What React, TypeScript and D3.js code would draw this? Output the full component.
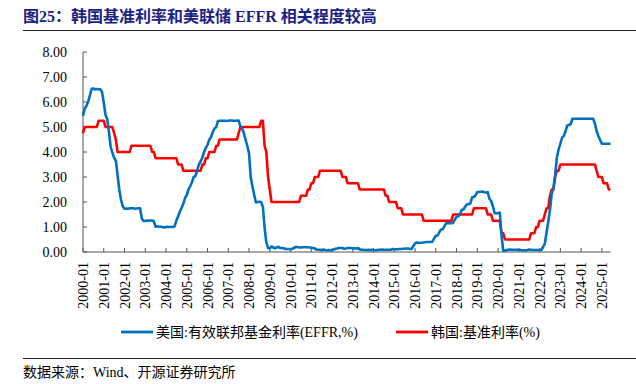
import React from "react";
import * as d3 from "d3";

// ---- Data (monthly, 2000-01 .. 2025-06) ----
const effr2000 = [5.45, 5.73, 5.85, 6.02, 6.27, 6.53, 6.54, 6.5, 6.52, 6.51, 6.51, 6.4];
const effr2001 = [5.98, 5.49, 5.31, 4.8, 4.21, 3.97, 3.77, 3.65, 3.07, 2.49, 2.09, 1.82];
const effr2002 = [1.73, 1.74, 1.73, 1.75, 1.75, 1.75, 1.73, 1.74, 1.75, 1.75, 1.34, 1.24];
const effr2003 = [1.24, 1.26, 1.25, 1.26, 1.26, 1.22, 1.01, 1.03, 1.01, 1.01, 1.0, 0.98];
const effr2004 = [1.0, 1.01, 1.0, 1.0, 1.0, 1.03, 1.26, 1.43, 1.61, 1.76, 1.93, 2.16];
const effr2005 = [2.28, 2.5, 2.63, 2.79, 3.0, 3.04, 3.26, 3.5, 3.62, 3.78, 4.0, 4.16];
const effr2006 = [4.29, 4.49, 4.59, 4.79, 4.94, 4.99, 5.24, 5.25, 5.25, 5.25, 5.25, 5.24];
const effr2007 = [5.25, 5.26, 5.26, 5.25, 5.25, 5.25, 5.26, 5.02, 4.94, 4.76, 4.49, 4.24];
const effr2008 = [3.94, 2.98, 2.61, 2.28, 1.98, 2.0, 2.01, 2.0, 1.81, 0.97, 0.39, 0.16];
const effr2009 = [0.15, 0.22, 0.18, 0.15, 0.18, 0.21, 0.16, 0.16, 0.15, 0.12, 0.12, 0.12];
const effr2010 = [0.11, 0.13, 0.16, 0.2, 0.2, 0.18, 0.18, 0.19, 0.19, 0.19, 0.19, 0.18];
const effr2011 = [0.17, 0.16, 0.14, 0.1, 0.09, 0.09, 0.07, 0.1, 0.08, 0.07, 0.08, 0.07];
const effr2012 = [0.08, 0.1, 0.13, 0.14, 0.16, 0.16, 0.16, 0.13, 0.14, 0.16, 0.16, 0.16];
const effr2013 = [0.14, 0.15, 0.14, 0.15, 0.11, 0.09, 0.09, 0.08, 0.08, 0.09, 0.08, 0.09];
const effr2014 = [0.07, 0.07, 0.08, 0.09, 0.09, 0.1, 0.09, 0.09, 0.09, 0.09, 0.09, 0.12];
const effr2015 = [0.11, 0.11, 0.11, 0.12, 0.12, 0.13, 0.13, 0.14, 0.14, 0.12, 0.12, 0.24];
const effr2016 = [0.34, 0.38, 0.36, 0.37, 0.37, 0.38, 0.39, 0.4, 0.4, 0.4, 0.41, 0.54];
const effr2017 = [0.65, 0.66, 0.79, 0.9, 0.91, 1.04, 1.15, 1.16, 1.15, 1.15, 1.16, 1.3];
const effr2018 = [1.41, 1.42, 1.51, 1.69, 1.7, 1.82, 1.91, 1.91, 1.95, 2.19, 2.2, 2.27];
const effr2019 = [2.4, 2.4, 2.41, 2.42, 2.39, 2.38, 2.4, 2.13, 2.04, 1.83, 1.55, 1.55];
const effr2020 = [1.55, 1.58, 0.65, 0.05, 0.05, 0.08, 0.09, 0.1, 0.09, 0.09, 0.09, 0.09];
const effr2021 = [0.09, 0.08, 0.07, 0.07, 0.06, 0.08, 0.1, 0.09, 0.08, 0.08, 0.08, 0.08];
const effr2022 = [0.08, 0.08, 0.2, 0.33, 0.77, 1.21, 1.68, 2.33, 2.56, 3.08, 3.78, 4.1];
const effr2023 = [4.33, 4.57, 4.65, 4.83, 5.06, 5.08, 5.12, 5.33, 5.33, 5.33, 5.33, 5.33];
const effr2024 = [5.33, 5.33, 5.33, 5.33, 5.33, 5.33, 5.33, 5.33, 5.13, 4.83, 4.64, 4.48];
const effr2025 = [4.33, 4.33, 4.33, 4.33, 4.33, 4.33];

const kor2000 = [4.75, 5.0, 5.0, 5.0, 5.0, 5.0, 5.0, 5.0, 5.0, 5.25, 5.25, 5.25];
const kor2001 = [5.25, 5.0, 5.0, 5.0, 5.0, 5.0, 4.75, 4.5, 4.0, 4.0, 4.0, 4.0];
const kor2002 = [4.0, 4.0, 4.0, 4.0, 4.25, 4.25, 4.25, 4.25, 4.25, 4.25, 4.25, 4.25];
const kor2003 = [4.25, 4.25, 4.25, 4.25, 4.0, 4.0, 3.75, 3.75, 3.75, 3.75, 3.75, 3.75];
const kor2004 = [3.75, 3.75, 3.75, 3.75, 3.75, 3.75, 3.75, 3.5, 3.5, 3.5, 3.25, 3.25];
const kor2005 = [3.25, 3.25, 3.25, 3.25, 3.25, 3.25, 3.25, 3.25, 3.25, 3.5, 3.5, 3.75];
const kor2006 = [3.75, 4.0, 4.0, 4.0, 4.0, 4.25, 4.25, 4.5, 4.5, 4.5, 4.5, 4.5];
const kor2007 = [4.5, 4.5, 4.5, 4.5, 4.5, 4.5, 4.75, 5.0, 5.0, 5.0, 5.0, 5.0];
const kor2008 = [5.0, 5.0, 5.0, 5.0, 5.0, 5.0, 5.0, 5.25, 5.25, 4.25, 4.0, 3.0];
const kor2009 = [2.5, 2.0, 2.0, 2.0, 2.0, 2.0, 2.0, 2.0, 2.0, 2.0, 2.0, 2.0];
const kor2010 = [2.0, 2.0, 2.0, 2.0, 2.0, 2.0, 2.25, 2.25, 2.25, 2.25, 2.5, 2.5];
const kor2011 = [2.75, 2.75, 3.0, 3.0, 3.0, 3.25, 3.25, 3.25, 3.25, 3.25, 3.25, 3.25];
const kor2012 = [3.25, 3.25, 3.25, 3.25, 3.25, 3.25, 3.0, 3.0, 3.0, 2.75, 2.75, 2.75];
const kor2013 = [2.75, 2.75, 2.75, 2.75, 2.5, 2.5, 2.5, 2.5, 2.5, 2.5, 2.5, 2.5];
const kor2014 = [2.5, 2.5, 2.5, 2.5, 2.5, 2.5, 2.5, 2.25, 2.25, 2.0, 2.0, 2.0];
const kor2015 = [2.0, 2.0, 1.75, 1.75, 1.75, 1.5, 1.5, 1.5, 1.5, 1.5, 1.5, 1.5];
const kor2016 = [1.5, 1.5, 1.5, 1.5, 1.5, 1.25, 1.25, 1.25, 1.25, 1.25, 1.25, 1.25];
const kor2017 = [1.25, 1.25, 1.25, 1.25, 1.25, 1.25, 1.25, 1.25, 1.25, 1.25, 1.5, 1.5];
const kor2018 = [1.5, 1.5, 1.5, 1.5, 1.5, 1.5, 1.5, 1.5, 1.5, 1.5, 1.75, 1.75];
const kor2019 = [1.75, 1.75, 1.75, 1.75, 1.75, 1.75, 1.5, 1.5, 1.5, 1.25, 1.25, 1.25];
const kor2020 = [1.25, 1.25, 0.75, 0.75, 0.5, 0.5, 0.5, 0.5, 0.5, 0.5, 0.5, 0.5];
const kor2021 = [0.5, 0.5, 0.5, 0.5, 0.5, 0.5, 0.5, 0.75, 0.75, 0.75, 1.0, 1.0];
const kor2022 = [1.25, 1.25, 1.25, 1.5, 1.75, 1.75, 2.25, 2.5, 2.5, 3.0, 3.25, 3.25];
const kor2023 = [3.5, 3.5, 3.5, 3.5, 3.5, 3.5, 3.5, 3.5, 3.5, 3.5, 3.5, 3.5];
const kor2024 = [3.5, 3.5, 3.5, 3.5, 3.5, 3.5, 3.5, 3.5, 3.5, 3.25, 3.0, 3.0];
const kor2025 = [3.0, 2.75, 2.75, 2.75, 2.5, 2.5];

const years = d3.range(2000, 2026);
const yTicks = [0, 1, 2, 3, 4, 5, 6, 7, 8];

const effr = [
  effr2000, effr2001, effr2002, effr2003, effr2004, effr2005, effr2006, effr2007, effr2008,
  effr2009, effr2010, effr2011, effr2012, effr2013, effr2014, effr2015, effr2016, effr2017,
  effr2018, effr2019, effr2020, effr2021, effr2022, effr2023, effr2024, effr2025,
].flat();
const korea = [
  kor2000, kor2001, kor2002, kor2003, kor2004, kor2005, kor2006, kor2007, kor2008, kor2009,
  kor2010, kor2011, kor2012, kor2013, kor2014, kor2015, kor2016, kor2017, kor2018, kor2019,
  kor2020, kor2021, kor2022, kor2023, kor2024, kor2025,
].flat();

const W = 636;
const H = 384;
const left = 83;
const right = 610.5;
const top = 52;
const bottom = 252;

const serif = "'Liberation Serif', 'Times New Roman', 'Noto Sans CJK SC', serif";

export default function App() {
  const x = d3.scaleLinear().domain([0, effr.length - 1]).range([left, right]);
  const y = d3.scaleLinear().domain([0, 8]).range([bottom, top]);
  const line = d3
    .line<number>()
    .x((_, i) => x(i))
    .y((d) => y(d));

  return (
    <svg
      width={W}
      height={H}
      style={{ position: "absolute", left: 0, top: 0, background: "#fff" }}
      fontFamily={serif}
    >
      {/* Title */}
      <text x={23} y={22} fontSize={16} fontWeight="bold" fill="#1b2283" fontFamily={serif}>
        图25：韩国基准利率和美联储 EFFR 相关程度较高
      </text>
      <line x1={23} x2={636} y1={30.5} y2={30.5} stroke="#222" strokeWidth={1.2} />

      {/* Y axis */}
      <line x1={left} x2={left} y1={top} y2={bottom} stroke="#555" strokeWidth={1} />
      {yTicks.map((t) => (
        <g key={t}>
          <line x1={left} x2={left + 4} y1={y(t)} y2={y(t)} stroke="#555" />
          <text x={67} y={y(t) + 5} fontSize={14} textAnchor="end" fill="#000">
            {t.toFixed(2)}
          </text>
        </g>
      ))}

      {/* X axis */}
      <line x1={left} x2={right} y1={bottom} y2={bottom} stroke="#555" strokeWidth={1} />
      {years.map((yr, k) => {
        const xi = x(k * 12);
        return (
          <g key={yr}>
            <line x1={xi} x2={xi} y1={bottom} y2={bottom - 4} stroke="#555" />
            <text
              transform={`translate(${xi + 5},${bottom + 10}) rotate(-90)`}
              fontSize={14}
              textAnchor="end"
              fill="#000"
            >
              {`${yr}-01`}
            </text>
          </g>
        );
      })}

      {/* Lines */}
      <path d={line(korea) || ""} fill="none" stroke="#ff0000" strokeWidth={2.6} strokeLinejoin="round" />
      <path d={line(effr) || ""} fill="none" stroke="#0070c0" strokeWidth={2.6} strokeLinejoin="round" />

      {/* Legend */}
      <line x1={121} x2={153} y1={332} y2={332} stroke="#0070c0" strokeWidth={2.8} />
      <text x={156} y={337} fontSize={14} fill="#000">
        美国:有效联邦基金利率(EFFR,%)
      </text>
      <line x1={396} x2={428} y1={332} y2={332} stroke="#ff0000" strokeWidth={2.8} />
      <text x={431} y={337} fontSize={14} fill="#000">
        韩国:基准利率(%)
      </text>

      {/* Source */}
      <line x1={23} x2={636} y1={358.5} y2={358.5} stroke="#222" strokeWidth={1} />
      <text x={23} y={377} fontSize={14} fill="#000">
        数据来源：Wind、开源证券研究所
      </text>
    </svg>
  );
}
